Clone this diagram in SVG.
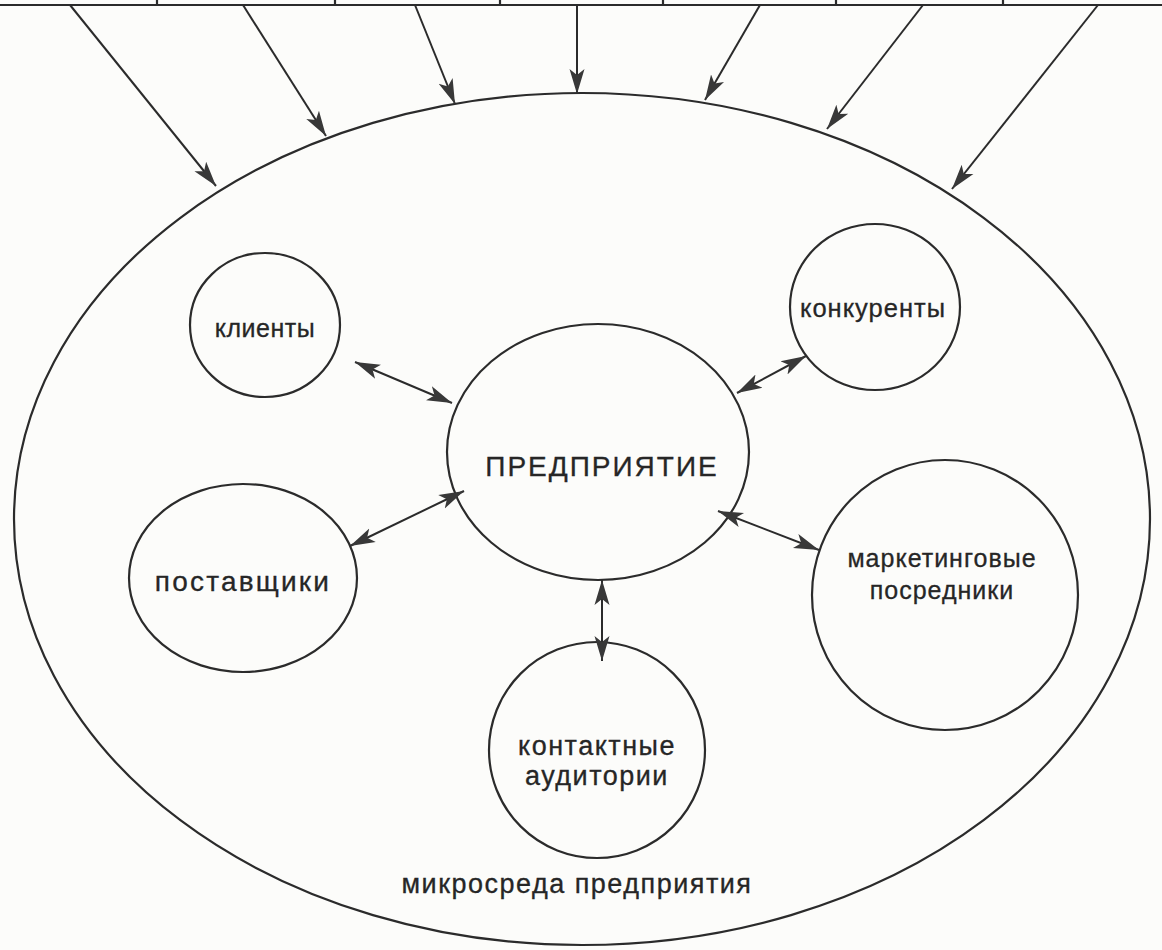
<svg xmlns="http://www.w3.org/2000/svg" width="1162" height="950" viewBox="0 0 1162 950">
<defs>
<marker id="ah" markerUnits="userSpaceOnUse" markerWidth="26" markerHeight="20" viewBox="0 0 26 20" refX="25" refY="10" orient="auto-start-reverse">
<path d="M0,2.5 L25,10 L0,17.5 L6,10 Z" fill="#383838"/>
</marker>
<style>
.ln{stroke:#2b2b2b;stroke-width:2;fill:none}
.nd{stroke:#2b2b2b;stroke-width:2.2;fill:none}
.t{font-family:"Liberation Sans",Arial,sans-serif;font-size:27px;fill:#262626;stroke:#262626;stroke-width:0.3;text-anchor:middle;letter-spacing:1.5px}
</style>
</defs>
<rect width="1162" height="950" fill="#fcfcfa"/>
<g id="top-bar">
<path class="nd" d="M0,5 L1162,5"/>
<path class="nd" d="M157,0 V5 M335,0 V5 M500,0 V5 M663,0 V5 M836,0 V5 M1003,0 V5"/>
</g>
<g id="microenvironment">
<ellipse class="nd" cx="582" cy="519" rx="568" ry="426"/>
<text class="t" x="577" y="893">микросреда предприятия</text>
</g>
<g id="enterprise">
<ellipse class="nd" cx="598" cy="452" rx="151" ry="128"/>
<text class="t" x="602" y="476" style="font-size:28px;letter-spacing:2px">ПРЕДПРИЯТИЕ</text>
</g>
<g id="clients">
<ellipse class="nd" cx="265" cy="325" rx="75" ry="72"/>
<text class="t" x="265" y="337" style="font-size:25px;letter-spacing:0.5px">клиенты</text>
</g>
<g id="competitors">
<ellipse class="nd" cx="875" cy="307" rx="85" ry="83"/>
<text class="t" x="873" y="317" style="font-size:25.5px;letter-spacing:1px">конкуренты</text>
</g>
<g id="suppliers">
<ellipse class="nd" cx="243" cy="578" rx="114" ry="94"/>
<text class="t" x="243" y="591" style="font-size:28px;letter-spacing:2.2px">поставщики</text>
</g>
<g id="intermediaries">
<ellipse class="nd" cx="945" cy="595" rx="133" ry="135"/>
<text class="t" x="942" y="567" style="font-size:25px;letter-spacing:1px">маркетинговые</text>
<text class="t" x="942" y="599" style="font-size:25px;letter-spacing:1px">посредники</text>
</g>
<g id="audiences">
<ellipse class="nd" cx="597" cy="750" rx="108" ry="108"/>
<text class="t" x="597" y="755">контактные</text>
<text class="t" x="597" y="785">аудитории</text>
</g>
<g id="connectors">
<line class="ln" x1="70" y1="5" x2="216" y2="186" marker-end="url(#ah)"/>
<line class="ln" x1="243" y1="5" x2="326" y2="136" marker-end="url(#ah)"/>
<line class="ln" x1="415" y1="5" x2="455" y2="104" marker-end="url(#ah)"/>
<line class="ln" x1="577" y1="5" x2="577" y2="94" marker-end="url(#ah)"/>
<line class="ln" x1="760" y1="5" x2="705" y2="100" marker-end="url(#ah)"/>
<line class="ln" x1="923" y1="5" x2="827" y2="129" marker-end="url(#ah)"/>
<line class="ln" x1="1098" y1="5" x2="952" y2="189" marker-end="url(#ah)"/>
<line class="ln" x1="355" y1="362" x2="452" y2="403" marker-start="url(#ah)" marker-end="url(#ah)"/>
<line class="ln" x1="806" y1="356" x2="737" y2="393" marker-start="url(#ah)" marker-end="url(#ah)"/>
<line class="ln" x1="350" y1="546" x2="464" y2="491" marker-start="url(#ah)" marker-end="url(#ah)"/>
<line class="ln" x1="718" y1="511" x2="819" y2="550" marker-start="url(#ah)" marker-end="url(#ah)"/>
<line class="ln" x1="602" y1="580" x2="602" y2="661" marker-start="url(#ah)" marker-end="url(#ah)"/>
</g>
</svg>
